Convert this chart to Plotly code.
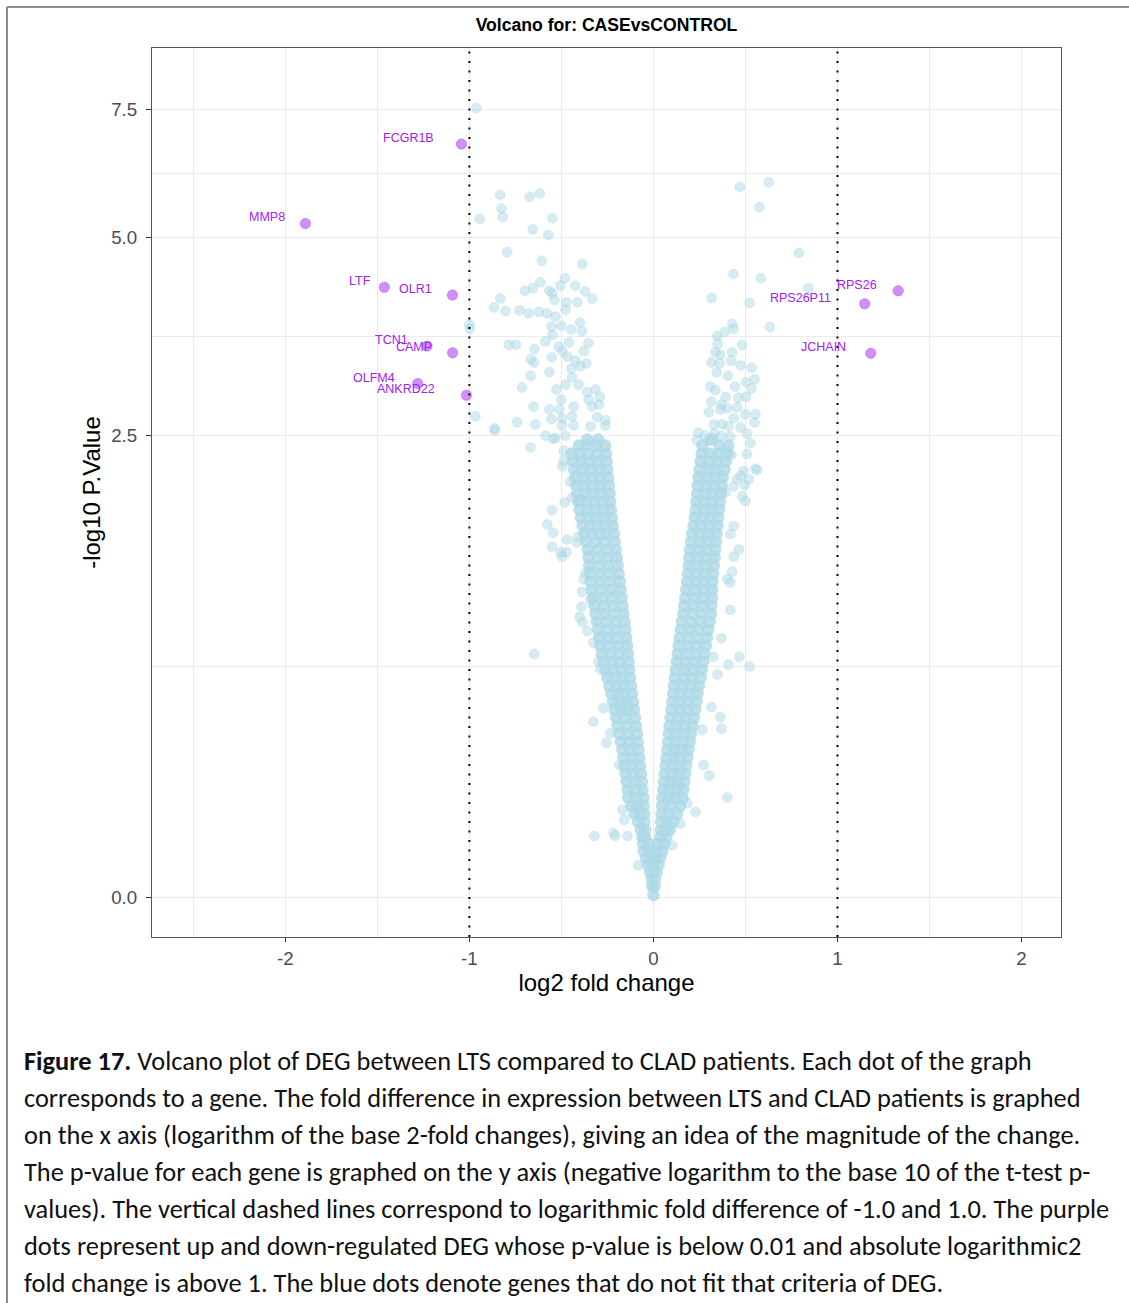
import numpy as np
import plotly.graph_objects as go

W, H = 1129, 1303
PL, PR, PT, PB = 152, 1061, 48, 937  # plot-area edges in px

# ---------------- data ----------------
deg_genes = ["FCGR1B", "MMP8", "LTF", "OLR1", "TCN1", "CAMP", "OLFM4", "ANKRD22",
             "RPS26", "RPS26P11", "JCHAIN"]
deg_log2fc = [-1.043, -1.891, -1.462, -1.092, -1.230, -1.091, -1.281, -1.016,
              1.330, 1.148, 1.181]
deg_neglog10p = [6.73, 5.23, 4.24, 4.13, 3.465, 3.386, 3.034, 2.908,
                 4.19, 4.01, 3.38]
label_dx = [-25, -18, -11, -18, -17, -19, -21, -29, -19, -32, -23]  # label offsets (px)

# scattered non-DEG genes, left side
bg_left_x = [-0.962, -0.832, -0.672, -0.618, -0.826, -0.819, -0.944, -0.549, -0.656, -0.571,
             -0.795, -0.606, -0.386, -0.481, -0.614, -0.505, -0.424, -0.655, -0.698, -0.565,
             -0.549, -0.370, -0.832, -0.538, -0.333, -0.473, -0.413, -0.867, -0.804, -0.728,
             -0.678, -0.622, -0.578, -0.533, -0.478, -1.000, -0.997, -0.399, -0.554, -0.500,
             -0.446, -0.388, -0.549, -0.786, -0.747, -0.587, -0.514, -0.460, -0.353, -0.646,
             -0.495, -0.379, -0.666, -0.649, -0.551, -0.467, -0.424, -0.364, -0.565, -0.668,
             -0.446, -0.397, -0.442, -0.478, -0.406, -0.714, -0.527, -0.500, -0.360, -0.315,
             -0.352, -0.291, -0.651, -0.565, -0.511, -0.433, -0.333, -0.296, -0.967, -0.554,
             -0.442, -0.496, -0.306, -0.261, -0.864, -0.861, -0.741, -0.641, -0.496, -0.433,
             -0.342, -0.261, -0.587, -0.533, -0.478, -0.668, -0.545, -0.488, -0.496, -0.488,
             -0.451, -0.482, -0.551, -0.576, -0.545, -0.469, -0.551, -0.505, -0.496, -0.473,
             -0.415, -0.411, -0.370, -0.379, -0.388, -0.342, -0.391, -0.401, -0.442, -0.397,
             -0.386, -0.359, -0.326, -0.299, -0.288, -0.647, -0.326, -0.272, -0.234, -0.255,
             -0.185, -0.168, -0.158, -0.321, -0.217, -0.207, -0.141, -0.082]
bg_left_y = [7.52, 5.73, 5.70, 5.76, 5.49, 5.34, 5.31, 5.32, 5.13, 5.04,
             4.76, 4.63, 4.58, 4.37, 4.31, 4.26, 4.26, 4.23, 4.19, 4.19,
             4.15, 4.18, 4.08, 4.06, 4.08, 4.03, 4.03, 3.96, 3.91, 3.92,
             3.88, 3.90, 3.88, 3.84, 3.93, 3.73, 3.68, 3.76, 3.71, 3.72,
             3.67, 3.65, 3.60, 3.48, 3.48, 3.52, 3.46, 3.51, 3.50, 3.43,
             3.40, 3.40, 3.31, 3.27, 3.33, 3.34, 3.29, 3.26, 3.16, 3.12,
             3.20, 3.23, 3.10, 3.02, 3.02, 2.99, 2.97, 2.86, 2.94, 2.97,
             2.86, 2.89, 2.79, 2.76, 2.76, 2.79, 2.79, 2.81, 2.69, 2.66,
             2.69, 2.67, 2.68, 2.65, 2.57, 2.55, 2.63, 2.61, 2.60, 2.60,
             2.59, 2.60, 2.50, 2.48, 2.50, 2.39, 2.47, 2.36, 2.22, 2.27,
             2.09, 1.92, 1.86, 1.75, 1.69, 1.64, 1.59, 1.55, 1.52, 1.55,
             1.62, 1.66, 1.41, 1.37, 1.29, 1.24, 1.20, 1.14, 1.96, 1.94,
             1.11, 1.06, 0.995, 0.895, 0.854, 0.935, 0.61, 0.67, 0.56, 0.52,
             0.43, 0.267, 0.233, 0.18, 0.19, 0.18, 0.18, 0.09]

# scattered non-DEG genes, right side
bg_right_x = [0.469, 0.627, 0.576, 0.790, 0.435, 0.583, 0.842, 0.317, 0.523, 0.633,
              0.428, 0.436, 0.388, 0.346, 0.481, 0.349, 0.337, 0.428, 0.364, 0.315,
              0.359, 0.423, 0.474, 0.533, 0.344, 0.405, 0.550, 0.503, 0.310, 0.444,
              0.533, 0.337, 0.393, 0.462, 0.504, 0.315, 0.370, 0.364, 0.301, 0.401,
              0.455, 0.500, 0.554, 0.550, 0.330, 0.373, 0.409, 0.473, 0.436, 0.242,
              0.235, 0.509, 0.527, 0.418, 0.301, 0.509, 0.424, 0.554, 0.491, 0.455,
              0.496, 0.436, 0.391, 0.482, 0.564, 0.500, 0.518, 0.473, 0.436, 0.418,
              0.464, 0.436, 0.401, 0.418, 0.428, 0.418, 0.370, 0.467, 0.522, 0.408,
              0.326, 0.348, 0.315, 0.364, 0.370, 0.266, 0.272, 0.304, 0.402, 0.228,
              0.185, 0.147, 0.103, 0.280, 0.330, 0.370]
bg_right_y = [5.88, 5.97, 5.51, 4.75, 4.43, 4.37, 4.23, 4.09, 4.02, 3.70,
              3.74, 3.68, 3.64, 3.59, 3.48, 3.49, 3.39, 3.39, 3.36, 3.27,
              3.26, 3.29, 3.24, 3.21, 3.16, 3.12, 3.08, 3.05, 3.00, 3.00,
              2.98, 2.96, 2.89, 2.88, 2.89, 2.84, 2.81, 2.76, 2.73, 2.77,
              2.78, 2.71, 2.71, 2.63, 2.61, 2.61, 2.59, 2.58, 2.67, 2.53,
              2.46, 2.52, 2.43, 2.49, 2.46, 2.33, 2.32, 2.20, 2.18, 2.11,
              2.06, 2.05, 2.00, 1.97, 2.19, 1.93, 2.11, 2.14, 1.74, 1.68,
              1.57, 1.52, 1.37, 1.35, 1.42, 1.18, 1.02, 0.92, 0.87, 0.88,
              0.92, 0.83, 0.675, 0.63, 0.58, 0.575, 0.43, 0.39, 0.31, 0.26,
              0.29, 0.22, 0.15, 2.50, 2.52, 2.50]

# dense, overplotted core of the volcano: one -log10 p level per row, log2FC values read in that row
core_y = [0.005, 0.030, 0.050, 0.070, 0.091, 0.112, 0.133, 0.155, 0.177, 0.200,
          0.226, 0.253, 0.281, 0.309, 0.338, 0.367, 0.397, 0.428, 0.459, 0.491,
          0.524, 0.558, 0.592, 0.627, 0.663, 0.699, 0.737, 0.775, 0.814, 0.854,
          0.894, 0.936, 0.979, 1.022, 1.067, 1.112, 1.159, 1.206, 1.254, 1.304,
          1.355, 1.407, 1.459, 1.514, 1.569, 1.625, 1.683, 1.742, 1.802, 1.864,
          1.927, 1.991, 2.057, 2.124, 2.193, 2.263, 2.335, 2.408, 2.464]
core_left_x = [
    [0.0], [-0.006], [-0.01], [-0.018, 0.0], [-0.028, 0.0],
    [-0.041, -0.013], [-0.053, -0.02], [-0.056, -0.022], [-0.06, -0.045], [-0.068, -0.045],
    [-0.083, -0.05], [-0.103, -0.075, -0.049], [-0.12, -0.086, -0.052],
    [-0.136, -0.095, -0.054], [-0.14, -0.10, -0.06], [-0.145, -0.104, -0.063],
    [-0.151, -0.109, -0.067], [-0.157, -0.114, -0.072], [-0.163, -0.12, -0.077],
    [-0.169, -0.125, -0.081], [-0.177, -0.131, -0.085], [-0.185, -0.137, -0.09],
    [-0.194, -0.144, -0.095], [-0.202, -0.151, -0.10],
    [-0.21, -0.175, -0.14, -0.105], [-0.219, -0.183, -0.147, -0.111],
    [-0.229, -0.192, -0.154, -0.117], [-0.239, -0.20, -0.161, -0.122],
    [-0.25, -0.209, -0.168, -0.127], [-0.261, -0.218, -0.174, -0.131],
    [-0.271, -0.226, -0.18, -0.135], [-0.281, -0.233, -0.186, -0.138],
    [-0.289, -0.24, -0.192, -0.143], [-0.295, -0.246, -0.197, -0.148],
    [-0.301, -0.251, -0.202, -0.152], [-0.307, -0.257, -0.207, -0.157],
    [-0.315, -0.264, -0.214, -0.163], [-0.321, -0.27, -0.219, -0.168],
    [-0.328, -0.276, -0.225, -0.173], [-0.335, -0.283, -0.23, -0.178],
    [-0.341, -0.288, -0.236, -0.183], [-0.345, -0.293, -0.241, -0.189],
    [-0.349, -0.297, -0.246, -0.194], [-0.353, -0.302, -0.25, -0.199],
    [-0.357, -0.306, -0.255, -0.204], [-0.365, -0.313, -0.262, -0.21],
    [-0.375, -0.335, -0.295, -0.255, -0.215], [-0.385, -0.344, -0.303, -0.262, -0.221],
    [-0.394, -0.352, -0.31, -0.268, -0.226], [-0.401, -0.358, -0.316, -0.273, -0.231],
    [-0.408, -0.365, -0.322, -0.278, -0.235], [-0.414, -0.37, -0.326, -0.282, -0.238],
    [-0.419, -0.375, -0.33, -0.286, -0.241], [-0.424, -0.379, -0.334, -0.29, -0.245],
    [-0.431, -0.386, -0.34, -0.295, -0.25], [-0.439, -0.393, -0.347, -0.30, -0.254],
    [-0.446, -0.399, -0.352, -0.305, -0.258], [-0.405, -0.36, -0.31, -0.262],
    [-0.36, -0.30],
]
core_right_x = [
    [], [0.006], [0.01], [0.018], [0.028],
    [0.013, 0.037], [0.015, 0.048], [0.022, 0.058], [0.038, 0.07], [0.04, 0.065, 0.088],
    [0.042, 0.075, 0.108], [0.044, 0.086, 0.128], [0.047, 0.095, 0.145],
    [0.049, 0.085, 0.122, 0.158], [0.053, 0.09, 0.127, 0.163], [0.057, 0.094, 0.131, 0.168],
    [0.061, 0.098, 0.136, 0.173], [0.066, 0.103, 0.141, 0.178], [0.071, 0.109, 0.146, 0.184],
    [0.076, 0.114, 0.152, 0.19], [0.08, 0.119, 0.158, 0.197], [0.084, 0.124, 0.165, 0.205],
    [0.088, 0.129, 0.17, 0.212], [0.093, 0.135, 0.177, 0.219],
    [0.097, 0.14, 0.183, 0.226], [0.102, 0.146, 0.19, 0.234],
    [0.107, 0.15, 0.195, 0.24], [0.112, 0.157, 0.202, 0.247],
    [0.117, 0.163, 0.21, 0.256], [0.122, 0.169, 0.216, 0.263],
    [0.127, 0.175, 0.222, 0.27], [0.132, 0.18, 0.229, 0.277],
    [0.137, 0.186, 0.236, 0.285], [0.143, 0.192, 0.242, 0.291],
    [0.149, 0.199, 0.248, 0.298], [0.155, 0.205, 0.256, 0.306],
    [0.163, 0.213, 0.263, 0.313], [0.168, 0.217, 0.266, 0.315],
    [0.173, 0.221, 0.27, 0.318], [0.178, 0.225, 0.272, 0.319],
    [0.183, 0.229, 0.275, 0.321], [0.188, 0.234, 0.28, 0.325],
    [0.192, 0.238, 0.283, 0.329], [0.195, 0.241, 0.287, 0.333],
    [0.199, 0.245, 0.29, 0.336], [0.205, 0.25, 0.295, 0.34],
    [0.211, 0.255, 0.30, 0.344], [0.218, 0.261, 0.305, 0.348],
    [0.225, 0.267, 0.31, 0.352], [0.23, 0.272, 0.315, 0.357],
    [0.234, 0.277, 0.32, 0.362], [0.238, 0.281, 0.324, 0.367],
    [0.241, 0.285, 0.328, 0.372], [0.245, 0.289, 0.333, 0.377],
    [0.251, 0.296, 0.341, 0.386], [0.257, 0.302, 0.348, 0.393],
    [0.262, 0.309, 0.356, 0.403], [0.266, 0.36, 0.407],
    [0.315],
]

fc_cutoffs = [-1, 1]
x_ticks = [-2, -1, 0, 1, 2]
x_tick_labels = ["-2", "-1", "0", "1", "2"]
x_minor = [-2.5, -1.5, -0.5, 0.5, 1.5]
y_ticks = [0, 2.5, 5, 7.5]
y_tick_labels = ["0.0", "2.5", "5.0", "7.5"]

caption_lines = [
    "<b>Figure 17.</b> Volcano plot of DEG between LTS compared to CLAD patients. Each dot of the graph",
    "corresponds to a gene. The fold difference in expression between LTS and CLAD patients is graphed",
    "on the x axis (logarithm of the base 2-fold changes), giving an idea of the magnitude of the change.",
    "The p-value for each gene is graphed on the y axis (negative logarithm to the base 10 of the t-test p-",
    "values). The vertical dashed lines correspond to logarithmic fold difference of -1.0 and 1.0. The purple",
    "dots represent up and down-regulated DEG whose p-value is below 0.01 and absolute logarithmic2",
    "fold change is above 1. The blue dots denote genes that do not fit that criteria of DEG.",
]

# ---------------- assemble ----------------
core_x, core_yy = [], []
for yv, lx, rx in zip(core_y, core_left_x, core_right_x):
    for v in lx + rx:
        core_x.append(v)
        core_yy.append(yv)
bg_x = list(bg_left_x) + list(bg_right_x)
bg_y = list(bg_left_y) + list(bg_right_y)

tr = np.log1p  # y scale: log1p transform of -log10 p
y_tv = tr(np.array(y_ticks))
y_minor = (y_tv[:-1] + y_tv[1:]) / 2


def px_x(px):
    return (px - PL) / (PR - PL)


def px_y(py):
    return (PB - py) / (PB - PT)


fig = go.Figure()
# overplotted core: drawn as a solid light-blue body like the stacked points of the reference
fig.add_trace(go.Scatter(
    x=core_x, y=tr(np.array(core_yy)), mode="markers",
    marker=dict(size=12.5, color="rgba(173,216,230,0.8)", line=dict(width=0)),
    hoverinfo="skip", showlegend=False))
fig.add_trace(go.Scatter(
    x=bg_x, y=tr(np.array(bg_y)), mode="markers",
    marker=dict(size=10, color="rgba(173,216,230,0.5)",
                line=dict(width=0.6, color="rgba(150,200,218,0.35)")),
    hoverinfo="skip", showlegend=False))
fig.add_trace(go.Scatter(
    x=deg_log2fc, y=tr(np.array(deg_neglog10p)), mode="markers",
    marker=dict(size=10.5, color="rgba(160,32,240,0.5)",
                line=dict(width=0.8, color="rgba(160,32,240,0.35)")),
    text=deg_genes, hoverinfo="text", showlegend=False))

for g, xv, yv, dx in zip(deg_genes, deg_log2fc, deg_neglog10p, label_dx):
    fig.add_annotation(x=xv, y=float(tr(yv)), text=g, showarrow=False,
                       xanchor="right", yanchor="middle", xshift=dx, yshift=6,
                       font=dict(family="Liberation Sans, Arial", size=12.5, color="#a020f0"))

for c in fc_cutoffs:
    fig.add_shape(type="line", xref="x", yref="paper", x0=c, x1=c, y0=0, y1=1,
                  line=dict(color="black", width=2, dash="2px,7.5px"), layer="above")

# outer frame of the figure (left and top edges)
frame = dict(color="#8c8c8c", width=2)
fig.add_shape(type="line", xref="paper", yref="paper", x0=px_x(7), x1=px_x(7),
              y0=px_y(7), y1=px_y(H + 5), line=frame, layer="above")
fig.add_shape(type="line", xref="paper", yref="paper", x0=px_x(7), x1=px_x(W + 5),
              y0=px_y(7), y1=px_y(7), line=frame, layer="above")

for i, line in enumerate(caption_lines):
    fig.add_annotation(xref="paper", yref="paper", x=px_x(22), y=px_y(1061 + 37 * i),
                       text=line, showarrow=False, xanchor="left", yanchor="middle",
                       font=dict(family="Carlito, Calibri, Lato", size=26.4, color="#111111"))

axis_common = dict(showline=True, linecolor="#555555", linewidth=1.3, mirror=True,
                   showgrid=True, gridcolor="#ebebeb", gridwidth=1.2, zeroline=False,
                   ticks="outside", tickcolor="#333333", tickwidth=1.2,
                   tickfont=dict(family="Liberation Sans, Arial", size=18.7, color="#4d4d4d"),
                   automargin=False)

fig.update_layout(
    width=W, height=H, paper_bgcolor="white", plot_bgcolor="white",
    margin=dict(l=PL, r=W - PR, t=PT, b=H - PB),
    title=dict(text="Volcano for: CASEvsCONTROL", x=0.5, xref="paper", xanchor="center",
               y=1 - 25 / H, yref="container", yanchor="middle",
               font=dict(family="Liberation Sans, Arial", size=17.6, color="black", weight="bold")),
    xaxis=dict(range=[-2.7245, 2.2147], tickmode="array", tickvals=x_ticks, ticktext=x_tick_labels,
               minor=dict(tickmode="array", tickvals=x_minor, showgrid=True, gridcolor="#ebebeb",
                          gridwidth=1.2, ticks=""),
               title=dict(text="log2 fold change", standoff=6,
                          font=dict(family="Liberation Sans, Arial", size=24, color="black")),
               ticklen=4, ticklabelstandoff=0, **axis_common),
    yaxis=dict(range=[-0.1086, 2.306], tickmode="array", tickvals=list(y_tv), ticktext=y_tick_labels,
               minor=dict(tickmode="array", tickvals=list(y_minor), showgrid=True, gridcolor="#ebebeb",
                          gridwidth=1.2, ticks=""),
               title=dict(text="-log10 P.Value", standoff=3,
                          font=dict(family="Liberation Sans, Arial", size=24, color="black")),
               ticklen=5, ticklabelstandoff=5, **axis_common),
)

fig.write_html("out.html", config={"displayModeBar": False},
               post_script="document.body.style.margin='0px';")
